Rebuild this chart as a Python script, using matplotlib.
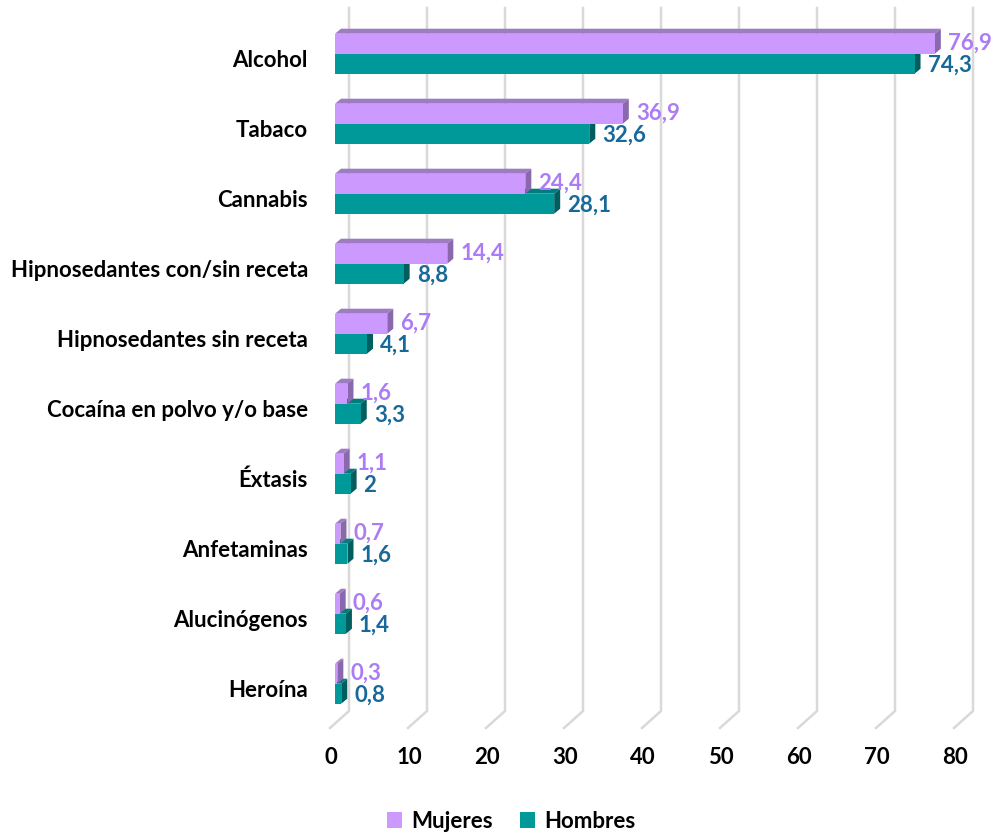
import matplotlib.pyplot as plt
from matplotlib.patches import Polygon

categorias = ['Alcohol', 'Tabaco', 'Cannabis', 'Hipnosedantes con/sin receta',
              'Hipnosedantes sin receta', 'Cocaína en polvo y/o base', 'Éxtasis',
              'Anfetaminas', 'Alucinógenos', 'Heroína']
mujeres = [76.9, 36.9, 24.4, 14.4, 6.7, 1.6, 1.1, 0.7, 0.6, 0.3]
hombres = [74.3, 32.6, 28.1, 8.8, 4.1, 3.3, 2.0, 1.6, 1.4, 0.8]
ticks = [0, 10, 20, 30, 40, 50, 60, 70, 80]

col_muj = '#CC99FF'
col_muj_top = '#9D7CC2'
col_muj_side = '#8A68AE'
col_hom = '#009999'
col_hom_top = '#007C7C'
col_hom_side = '#005E5E'
txt_muj = '#AC7CF6'
txt_hom = '#17699A'

plt.rcParams['font.family'] = ['Lato', 'DejaVu Sans']
plt.rcParams['font.weight'] = 'bold'
FS = 16

W, H = 996, 837
fig = plt.figure(figsize=(W / 100, H / 100), dpi=100)
ax = fig.add_axes([0, 0, 1, 1])

# pixel geometry of the original (3d-ish excel chart)
PX = 7.8      # px per unit on x
ROW = 70      # px per category
x0, y0 = 335, 54.7
ax.set_xlim(-x0 / PX, (W - x0) / PX)
ax.set_ylim((H - y0) / ROW, -y0 / ROW)
ax.axis('off')


def px_y(p):
    return (p - y0) / ROW


h = 20 / ROW
dx, dy = 6 / PX, 5 / ROW

# back wall gridlines + floor diagonal
for t in ticks:
    xb = t + 14 / PX
    xf = t - 5 / PX
    ax.plot([xb, xb, xf], [px_y(9), px_y(712), px_y(729)],
            color='#D9D9D9', lw=1.8, zorder=1, solid_joinstyle='miter')
    ax.text(t - 4 / PX, px_y(757), str(t), ha='center', va='center',
            fontsize=FS, color='black')


def bar3d(ax, y_top, v, front, top, side, z):
    ax.add_patch(Polygon([(0, y_top), (v, y_top), (v + dx, y_top - dy), (dx, y_top - dy)],
                         closed=True, fc=top, ec='none', zorder=z))
    ax.add_patch(Polygon([(v, y_top), (v, y_top + h), (v + dx, y_top + h - dy),
                          (v + dx, y_top - dy)],
                         closed=True, fc=side, ec='none', zorder=z))


pos = list(range(len(categorias)))
for i, (m, hm) in enumerate(zip(mujeres, hombres)):
    bar3d(ax, i, hm, col_hom, col_hom_top, col_hom_side, 2)
    bar3d(ax, i - h, m, col_muj, col_muj_top, col_muj_side, 4)

b_hom = ax.barh([p + h / 2 for p in pos], hombres, height=h, color=col_hom,
                zorder=3, label='Hombres')
b_muj = ax.barh([p - h / 2 for p in pos], mujeres, height=h, color=col_muj,
                zorder=5, label='Mujeres')

for i, (m, hm) in enumerate(zip(mujeres, hombres)):
    ax.text(m + 13 / PX, i - h / 2 - 1 / ROW, f'{m:g}'.replace('.', ','),
            ha='left', va='center', fontsize=FS, color=txt_muj, zorder=6)
    ax.text(hm + 13 / PX, i + h / 2 + 1 / ROW, f'{hm:g}'.replace('.', ','),
            ha='left', va='center', fontsize=FS, color=txt_hom, zorder=6)
    ax.text(-27 / PX, i + 6 / ROW, categorias[i], ha='right', va='center',
            fontsize=FS, color='black')

fig.legend(handles=[b_muj, b_hom], labels=['Mujeres', 'Hombres'], loc='center',
           bbox_to_anchor=(511 / W, 1 - 822 / H), ncol=2, frameon=False,
           fontsize=FS, handlelength=0.7, handleheight=0.7, handletextpad=0.4,
           columnspacing=1.2)

fig.savefig('out.png', dpi=100)
